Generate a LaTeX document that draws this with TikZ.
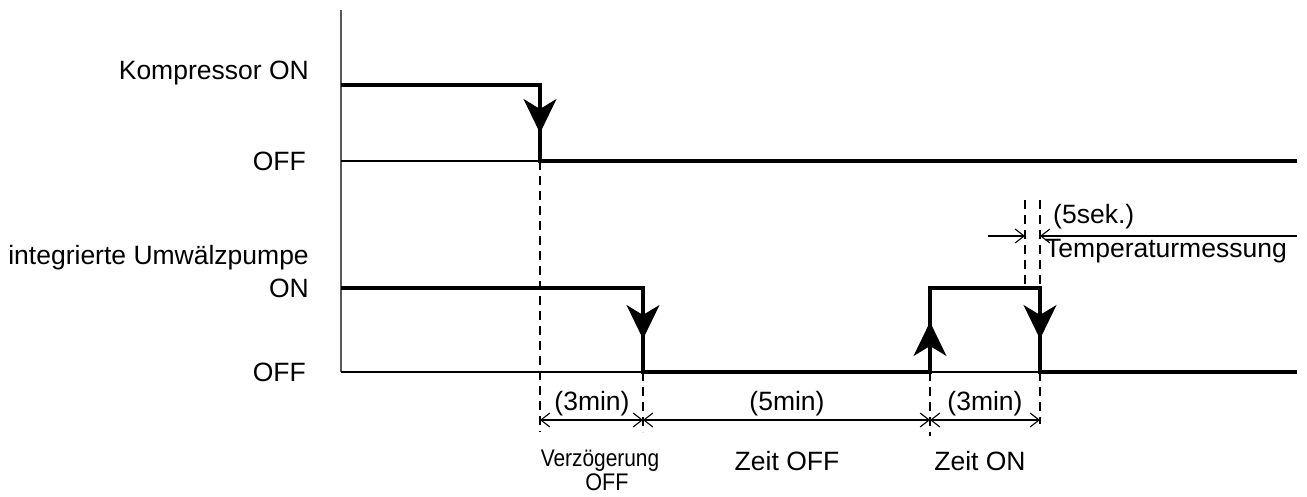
\documentclass[tikz,border=0pt]{standalone}
\usepackage{fontspec}
\setmainfont{Liberation Sans}
\usetikzlibrary{arrows.meta}

\begin{document}
\begin{tikzpicture}[x=1pt, y=-1pt, >=Stealth,
    sig/.style={line width=3.6pt, line join=miter},
    base/.style={line width=1.2pt},
    guide/.style={line width=1.1pt, dash pattern=on 9pt off 6pt},
    dim/.style={line width=1.1pt, {Straight Barb[length=9pt,width=14pt]}-{Straight Barb[length=9pt,width=14pt]}},
    tip/.style={line width=1pt, -{Stealth[length=34pt,width=33pt,inset=10pt]}},
    lbl/.style={inner sep=0pt, font=\fontsize{26.5}{30}\selectfont}]
    \useasboundingbox (0,0) rectangle (1307,496);
    % axis and base lines
    \draw[line width=2pt, gray!70!black] (341,10) -- (341,372);
    \draw[base] (341,161) -- (1297,161);
    \draw[base] (341,372) -- (1297,372);
    % Kompressor
    \coordinate (kon) at (341,85);
    \coordinate (koff) at (540,161);
    \draw[sig] (kon) -| (koff) -- (1297,161);
    \draw[tip] (540,96) -- (540,133);
    % Umwaelzpumpe
    \coordinate (pon) at (341,288);
    \coordinate (poff) at (643,372);
    \coordinate (pup) at (930,372);
    \coordinate (pdown) at (1040,372);
    \draw[sig] (pon) -| (poff) -- (pup) |- (1040,288) -- (pdown) -- (1297,372);
    \draw[tip] (643,301) -- (643,339);
    \draw[tip] (930,360) -- (930,322);
    \draw[tip] (1040,301) -- (1040,339);
    % guide lines
    \draw[guide] (koff) -- (540,432);
    \draw[guide] (poff) -- (643,432);
    \draw[guide] (pup) -- (930,436);
    \draw[guide] (pdown) -- (1040,424);
    \draw[guide] (1025,200) -- (1025,288);
    \draw[guide] (1040,200) -- (1040,288);
    % dimensions
    \draw[dim] (540,420) -- (643,420);
    \draw[dim] (643,420) -- (930,420);
    \draw[dim] (930,420) -- (1040,420);
    \draw[line width=1.1pt, -{Straight Barb[length=9pt,width=14pt]}] (988,236) -- (1025,236);
    \draw[line width=1.1pt, -{Straight Barb[length=9pt,width=14pt]}] (1297,236) -- (1040,236);
    % labels
    \node[lbl, anchor=east] (lkon) at (309,73) {Kompressor ON};
    \node[lbl, anchor=east] (lkoff) at (306,161) {OFF};
    \node[lbl, anchor=east] (lpump) at (309,258) {integrierte Umwälzpumpe};
    \node[lbl, anchor=east] (lpon) at (309,288) {ON};
    \node[lbl, anchor=east] (lpoff) at (306,372) {OFF};
    \node[lbl] (d1) at (592,404) {(3min)};
    \node[lbl] (d2) at (787,404) {(5min)};
    \node[lbl] (d3) at (985,404) {(3min)};
    \node[lbl, anchor=west] (dsek) at (1053,217) {(5sek.)};
    \node[lbl, anchor=west] (dtemp) at (1045,251) {Temperaturmessung};
    \node[lbl, font=\fontsize{24}{26}\selectfont, xscale=0.87] (tv) at (600,461) {Verzögerung};
    \node[lbl, font=\fontsize{24}{26}\selectfont, xscale=0.9] (tvoff) at (607,482) {OFF};
    \node[lbl] (toff) at (787,461) {Zeit OFF};
    \node[lbl] (ton) at (980,461) {Zeit ON};
\end{tikzpicture}
\end{document}
